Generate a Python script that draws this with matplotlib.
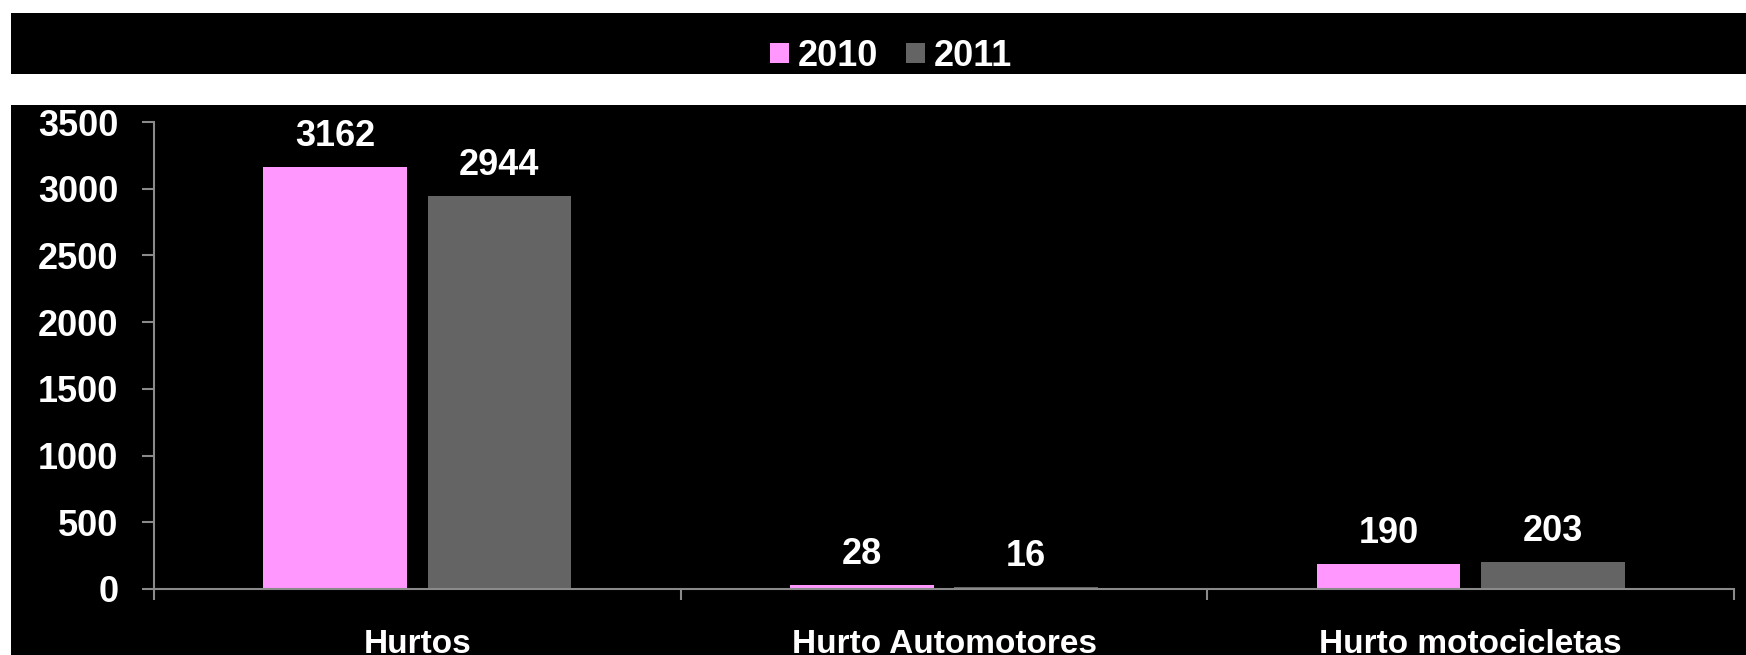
import matplotlib
matplotlib.use("Agg")
import matplotlib.pyplot as plt
from matplotlib.patches import Rectangle
import numpy as np

categories = ["Hurtos", "Hurto Automotores", "Hurto motocicletas"]
series_names = ["2010", "2011"]
values_2010 = [3162, 28, 190]
values_2011 = [2944, 16, 203]
yticks = [0, 500, 1000, 1500, 2000, 2500, 3000, 3500]

plt.rcParams['font.family'] = ['Liberation Sans', 'DejaVu Sans']
plt.rcParams['font.weight'] = 'bold'

W, H = 1746, 655
fig = plt.figure(figsize=(W / 100, H / 100), dpi=100, facecolor='white')

# black panels
fig.patches.append(Rectangle((11 / W, (H - 74) / H), (W - 11) / W, 61 / H,
                             transform=fig.transFigure, facecolor='black', edgecolor='none', zorder=-5))
fig.patches.append(Rectangle((11 / W, 0), (W - 11) / W, (H - 105) / H,
                             transform=fig.transFigure, facecolor='black', edgecolor='none', zorder=-5))

ax = fig.add_axes([154 / W, (H - 589) / H, (1734 - 154) / W, (589 - 122) / H])
ax.set_zorder(2)
ax.set_facecolor('none')

x = np.arange(len(categories))
bw = 0.273
off = 0.156
pink = '#FF97FF'
gray = '#646464'
b1 = ax.bar(x - off, values_2010, bw, color=pink, label=series_names[0])
b2 = ax.bar(x + off, values_2011, bw, color=gray, label=series_names[1])

for bars, vals in ((b1, values_2010), (b2, values_2011)):
    for r, v in zip(bars, vals):
        ax.annotate(str(v), (r.get_x() + r.get_width() / 2, r.get_height()),
                    xytext=(0, 15), textcoords='offset points',
                    ha='center', va='baseline', color='white', fontsize=26, fontweight='bold')

ax.set_xlim(-0.5, 2.5)
ax.set_ylim(0, 3500)
ax.set_yticks(yticks)
ax.set_yticklabels([str(t) for t in yticks])
ax.set_xticks(x)
ax.set_xticklabels(categories)
ax.set_xticks([-0.5, 0.5, 1.5, 2.5], minor=True)

for s in ['top', 'right']:
    ax.spines[s].set_visible(False)
for s in ['left', 'bottom']:
    ax.spines[s].set_color('#8a8a8a')
    ax.spines[s].set_linewidth(1.5)

ax.tick_params(axis='y', colors='#8a8a8a', length=8.6, width=1.5, pad=17,
               labelsize=26, labelcolor='white')
ax.tick_params(axis='x', which='major', length=0, pad=29, labelsize=24, labelcolor='white')
ax.tick_params(axis='x', which='minor', length=8, width=1.5, colors='#8a8a8a')
for lab in ax.get_xticklabels() + ax.get_yticklabels():
    lab.set_fontweight('bold')

leg = fig.legend(handles=[b1, b2], labels=series_names, loc='center',
                 bbox_to_anchor=(891 / W, 1 - 56 / H), ncol=2, frameon=False,
                 fontsize=26, handlelength=0.53, handleheight=0.47,
                 handletextpad=0.25, columnspacing=0.75, borderpad=0, borderaxespad=0)
for t in leg.get_texts():
    t.set_color('white')
    t.set_fontweight('bold')

fig.savefig('out.png', dpi=100, facecolor='white')
